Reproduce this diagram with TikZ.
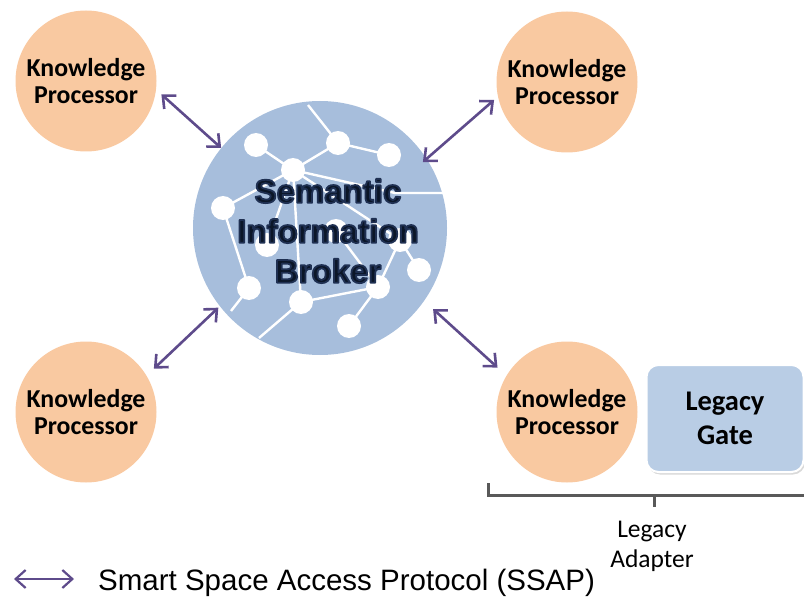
\documentclass[tikz,border=0pt]{standalone}
\usepackage{fontspec}
\setmainfont{Carlito}
\newfontfamily\arialfont{Liberation Sans}
\usetikzlibrary{arrows.meta,shadows}

\definecolor{kpfill}{HTML}{F9C9A1}
\definecolor{sibfill}{HTML}{A7BEDC}
\definecolor{gatefill}{HTML}{B9CDE5}
\definecolor{ssap}{HTML}{5E4B8B}
\definecolor{bracketgray}{HTML}{595959}
\definecolor{sibtext}{HTML}{0B1628}

% glyphs filled and outlined, giving the broker title its heavy dark edge
\newcommand{\outlinedtext}[1]{\special{pdf:literal q 2 Tr 1.8 w 1 j 0.12 0.19 0.32 RG}#1\special{pdf:literal Q}}

\begin{document}
\begin{tikzpicture}[x=1pt,y=-1pt,
  kp/.style={circle,fill=kpfill,minimum size=141pt,inner sep=0pt,align=center,
    font=\fontsize{25.8}{27.5}\selectfont\bfseries},
  sib/.style={circle,fill=sibfill,minimum size=254pt,inner sep=0pt},
  ssaparrow/.style={draw=ssap,line width=2.6pt,
    {Straight Barb[length=10pt,width=18pt]}-{Straight Barb[length=10pt,width=18pt]}},
  netnode/.style={circle,fill=white,minimum size=24pt,inner sep=0pt},
  netlink/.style={draw=white,line width=2.4pt},
  sibfont/.style={align=center,font=\arialfont\fontsize{33}{40}\selectfont\bfseries},
  gate/.style={rounded corners=12pt,fill=gatefill,draw=white,line width=2pt,
    minimum width=157pt,minimum height=107pt,align=center,
    drop shadow={shadow xshift=1.5pt,shadow yshift=-2.5pt,opacity=0.3},
    font=\fontsize{28.5}{34}\selectfont\bfseries},
  bracket/.style={draw=bracketgray,line width=3pt},
  note/.style={align=center,font=\fontsize{25.5}{30}\selectfont},
]
\useasboundingbox (0,0) rectangle (804,599);

% broker disc
\node[sib] (sib) at (320,228) {};

% triple-store network drawn inside the broker
\coordinate (nT) at (308,105);
\coordinate (nR) at (446,193);
\coordinate (nP) at (395,193);
\coordinate (nBL) at (231,311);
\coordinate (nBB) at (259,338);
\foreach \n/\p in {A/{256,145},B/{338,143},C/{389,155},D/{293,170},E/{223,208},
    F/{267,245},G/{336,231},N/{400,240},H/{419,270},I/{249,288},J/{301,302},
    K/{378,287},L/{349,326}}
  \coordinate (n\n) at (\p);
\path[netlink] (nT) -- (nB) (nA) -- (nD) (nB) -- (nD) (nB) -- (nC)
  (nD) -- (nP) -- (nR) (nD) -- (nE) (nD) -- (nF) (nD) -- (nJ) (nD) -- (nN)
  (nE) -- (nI) (nI) -- (nBL) (nJ) -- (nBB) (nJ) -- (nK) (nK) -- (nL)
  (nK) -- (nN) (nH) -- (nN) (nG) -- (nK);
\foreach \n in {A,B,C,D,E,F,G,N,H,I,J,K,L}
  \node[netnode] at (n\n) {};

% broker title
\node[sibfont,text=sibtext] (sibl) at (328,231)
  {\outlinedtext{Semantic\\Information\\Broker}};

% knowledge processors
\node[kp] (kptl) at (86,81)  {Knowledge\\Processor};
\node[kp] (kptr) at (567,82) {Knowledge\\Processor};
\node[kp] (kpbl) at (86,412) {Knowledge\\Processor};
\node[kp] (kpbr) at (567,412) {Knowledge\\Processor};

% legacy gate
\node[gate] (gate) at (725,418.5) {Legacy\\Gate};

% SSAP links
\draw[ssaparrow,shorten <=7pt] (kptl.-7) -- (sib.141);
\draw[ssaparrow,shorten <=5pt,shorten >=-5pt] (kptr.-168) -- (sib.33);
\draw[ssaparrow,shorten <=10pt,shorten >=2pt] (kpbl.31) -- (sib.218);
\draw[ssaparrow,shorten <=12pt,shorten >=12pt] (kpbr.149) -- (sib.-35);

% legacy adapter bracket
\coordinate (brL) at (488,483);
\coordinate (brC) at (654,495);
\coordinate (brR) at (806,495);
\path[bracket] (brL) -- (brL |- brC) -- (brR);
\path[bracket] (brC) -- ++(0,12);
\node[note] (adapter) at (652,546) {Legacy\\Adapter};

% legend
\coordinate (lgA) at (14,579);
\coordinate (lgB) at (74,579);
\draw[ssaparrow,line width=2.2pt] (lgA) -- (lgB);
\node[anchor=base west,inner sep=0pt,font=\arialfont\fontsize{29.5}{34}\selectfont]
  (legend) at (98,590) {Smart Space Access Protocol (SSAP)};
\end{tikzpicture}
\end{document}
